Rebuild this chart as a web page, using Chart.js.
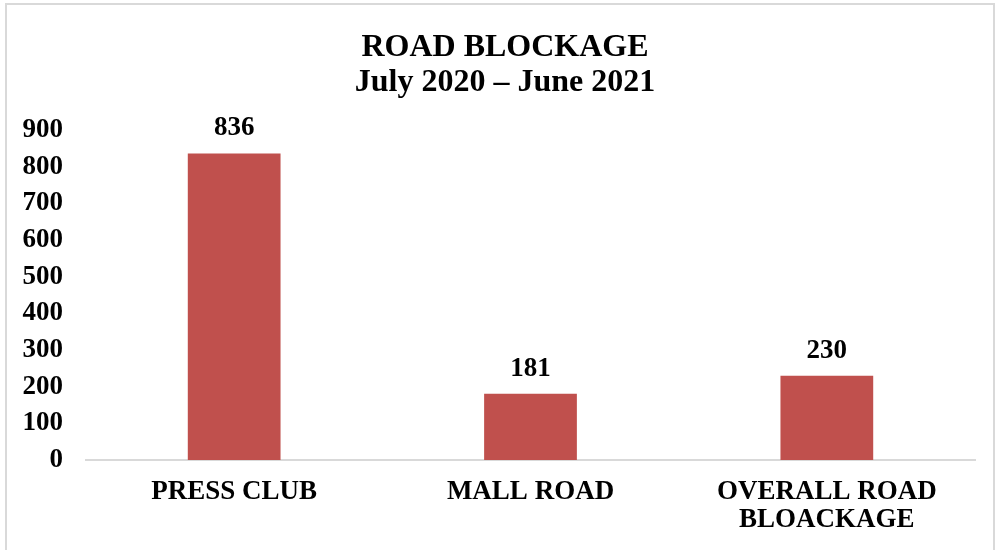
<!DOCTYPE html>
<html>
<head>
<meta charset="utf-8">
<script src="https://cdn.jsdelivr.net/npm/chart.js@4"></script>
<style>
  html, body { margin: 0; padding: 0; background: #fff; }
  #wrap { position: relative; width: 998px; height: 550px; overflow: hidden; }
  #frame { position: absolute; left: 5px; top: 3px; width: 990px; height: 560px; border: 2px solid #d9d9d9; box-sizing: border-box; }
  canvas { position: absolute; left: 0; top: 0; }
  #title { position: absolute; left: 205px; width: 600px; top: 28px; text-align: center;
           font-family: 'Liberation Serif', 'Times New Roman', serif; font-weight: bold;
           font-size: 32px; line-height: 35px; color: #000; }
</style>
</head>
<body>
<div id="wrap">
  <div id="frame"></div>
  <canvas id="c" width="998" height="550"></canvas>
  <div id="title"></div>
</div>
<script>
const categories = ["PRESS CLUB", "MALL ROAD", ["OVERALL ROAD", "BLOACKAGE"]];
const blockages = [836, 181, 230];
const titleLines = ["ROAD BLOCKAGE", "July 2020 \u2013 June 2021"];
const yTicks = { min: 0, max: 900, step: 100 };

const FONT = "'Liberation Serif', 'Times New Roman', serif";

const titleEl = document.getElementById('title');
titleLines.forEach(line => {
  const d = document.createElement('div');
  d.textContent = line;
  titleEl.appendChild(d);
});

const dataLabels = {
  id: 'dataLabels',
  afterDatasetsDraw(chart) {
    const ctx = chart.ctx;
    const meta = chart.getDatasetMeta(0);
    ctx.save();
    ctx.font = "bold 27px " + FONT;
    ctx.fillStyle = "#000";
    ctx.textAlign = "center";
    ctx.textBaseline = "middle";
    meta.data.forEach((bar, i) => {
      ctx.fillText(String(chart.data.datasets[0].data[i]), bar.x, bar.y - 25);
    });
    ctx.restore();
  }
};

new Chart(document.getElementById('c'), {
  type: 'bar',
  data: {
    labels: categories,
    datasets: [{
      data: blockages,
      backgroundColor: '#C0504D',
      borderWidth: 0,
      barPercentage: 1,
      categoryPercentage: 0.313
    }]
  },
  options: {
    responsive: false,
    animation: false,
    devicePixelRatio: 1,
    layout: { padding: { top: 130, right: 23, left: 0, bottom: 0 } },
    plugins: {
      legend: { display: false },
      tooltip: { enabled: false },
      title: { display: false }
    },
    scales: {
      x: {
        grid: { display: false, drawTicks: false },
        border: { display: true, color: '#d9d9d9', width: 2 },
        ticks: {
          color: '#000',
          font: { family: FONT, size: 27, weight: 'bold', lineHeight: 1.05 },
          padding: 18,
          maxRotation: 0
        },
        afterFit(scale) { scale.height = 90; }
      },
      y: {
        min: yTicks.min,
        max: yTicks.max,
        grid: { display: false, drawTicks: false },
        border: { display: false },
        ticks: {
          stepSize: yTicks.step,
          color: '#000',
          font: { family: FONT, size: 27, weight: 'bold' },
          padding: 23
        },
        afterFit(scale) { scale.width = 86; }
      }
    }
  },
  plugins: [dataLabels]
});
</script>
</body>
</html>
